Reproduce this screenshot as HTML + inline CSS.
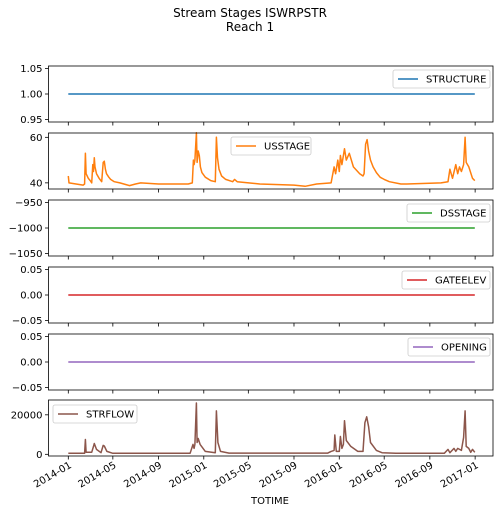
<!DOCTYPE html>
<html><head><meta charset="utf-8"><style>
body{margin:0;background:#fff;}
svg{display:block;font-family:"DejaVu Sans","Liberation Sans",sans-serif;}
</style></head><body>
<svg id="c" width="501" height="514">
<text x="250" y="17" text-anchor="middle" font-size="12">Stream Stages ISWRPSTR</text>
<text x="250" y="31" text-anchor="middle" font-size="12">Reach 1</text>
<text x="270" y="504" text-anchor="middle" font-size="10">TOTIME</text>
</svg>
<script>
const xTickLabels=["2014-01","2014-05","2014-09","2015-01","2015-05","2015-09","2016-01","2016-05","2016-09","2017-01"];
const usDates=["2014-01-01","2014-01-03","2014-02-10","2014-02-14","2014-02-16","2014-02-18","2014-02-24","2014-03-01","2014-03-05","2014-03-08","2014-03-10","2014-03-12","2014-03-14","2014-03-18","2014-03-25","2014-04-01","2014-04-05","2014-04-08","2014-04-11","2014-04-14","2014-04-20","2014-04-25","2014-05-05","2014-05-20","2014-06-15","2014-07-01","2014-07-15","2014-09-01","2014-10-01","2014-11-20","2014-12-01","2014-12-04","2014-12-06","2014-12-08","2014-12-12","2014-12-14","2014-12-17","2014-12-20","2014-12-23","2014-12-27","2015-01-05","2015-01-20","2015-02-01","2015-02-04","2015-02-07","2015-02-11","2015-02-18","2015-03-01","2015-03-20","2015-03-25","2015-04-01","2015-06-01","2015-09-01","2015-10-01","2015-11-01","2015-12-10","2015-12-18","2015-12-22","2015-12-28","2016-01-01","2016-01-04","2016-01-08","2016-01-15","2016-01-20","2016-01-28","2016-02-08","2016-02-25","2016-03-05","2016-03-08","2016-03-12","2016-03-16","2016-03-20","2016-03-25","2016-04-01","2016-04-10","2016-04-20","2016-05-01","2016-05-15","2016-06-15","2016-07-01","2016-10-01","2016-10-20","2016-10-25","2016-11-01","2016-11-10","2016-11-15","2016-11-20","2016-11-25","2016-12-01","2016-12-05","2016-12-08","2016-12-15","2016-12-25","2016-12-31"];
const usValues=[43,40,39,39.5,53,44,42,41,40,48,45,51,47,44,42,40.5,49,49.5,46,44,42.5,41.5,40.5,40,38.8,39.5,40,39.5,39.5,39.5,40,50,48,50,62,49,54,52,47,44.5,42.5,41,40.5,60,51,46,43,41.5,40.5,41.5,40.5,39.5,39,38.5,39.5,40,47,44,50,45,52,48,55,50,53,47,44,43,44,57,59,54,50,47,44.5,42.5,41.5,40.5,39.5,39.5,40,40.5,46,42,48,44,47,45,48,60,49,47,42,41];
const sfDates=["2014-01-01","2014-02-14","2014-02-16","2014-02-18","2014-03-05","2014-03-10","2014-03-12","2014-03-18","2014-03-30","2014-04-05","2014-04-08","2014-04-15","2014-05-01","2014-11-25","2014-12-03","2014-12-06","2014-12-08","2014-12-12","2014-12-14","2014-12-17","2014-12-22","2015-01-05","2015-02-01","2015-02-04","2015-02-08","2015-02-15","2015-03-10","2015-12-01","2015-12-10","2015-12-18","2015-12-20","2015-12-24","2016-01-01","2016-01-04","2016-01-08","2016-01-12","2016-01-15","2016-01-20","2016-02-01","2016-02-20","2016-02-28","2016-03-05","2016-03-10","2016-03-15","2016-03-20","2016-03-25","2016-04-10","2016-04-25","2016-06-01","2016-10-10","2016-10-20","2016-10-25","2016-11-05","2016-11-10","2016-11-15","2016-11-25","2016-12-01","2016-12-05","2016-12-08","2016-12-15","2016-12-20","2016-12-25","2016-12-31"];
const sfValues=[500,500,7500,1000,1000,4000,5500,2500,800,4500,4200,1500,500,500,5000,3000,5000,26000,6000,8000,5000,1500,800,22000,6000,1500,600,600,1500,2000,9800,1500,1500,9000,3000,5000,17000,7000,4000,1500,1500,1500,16000,19000,14000,6000,2000,800,500,500,2500,800,3000,1500,3000,2000,8500,22000,4000,3000,1000,2500,1000];
const structureValue=[1];
const dsValue=[-1000];
const gateValue=[0];
const openingValue=[0];
const ns="http://www.w3.org/2000/svg";
const svg=document.getElementById('c');
const X0=48.5,X1=493,T0=Date.UTC(2014,0,1),K=0.3712;
function xs(d){const p=d.split('-');const t=Date.UTC(+p[0],+p[1]-1,+(p[2]||1));return 68.3+(t-T0)/86400000*K;}
function mk(tag,at,par){const e=document.createElementNS(ns,tag);for(const k in at)e.setAttribute(k,at[k]);(par||svg).appendChild(e);return e;}
const panels=[
 {name:"structure",top:66,lo:0.945,hi:1.055,ticks:[0.95,1.00,1.05],fmt:v=>v.toFixed(2),color:"#1f77b4",label:"STRUCTURE",lg:[393,70,97]},
 {name:"usstage",top:133,lo:37.3,hi:61.9,ticks:[40,60],fmt:v=>String(v),color:"#ff7f0e",label:"USSTAGE",lg:[231,137,80]},
 {name:"dsstage",top:200,lo:-1055,hi:-945,ticks:[-1050,-1000,-950],fmt:v=>String(v).replace('-','−'),color:"#2ca02c",label:"DSSTAGE",lg:[407,204,83]},
 {name:"gateelev",top:267,lo:-0.055,hi:0.055,ticks:[-0.05,0,0.05],fmt:v=>v.toFixed(2).replace('-','−'),color:"#d62728",label:"GATEELEV",lg:[402,271,88]},
 {name:"opening",top:334,lo:-0.055,hi:0.055,ticks:[-0.05,0,0.05],fmt:v=>v.toFixed(2).replace('-','−'),color:"#9467bd",label:"OPENING",lg:[408,338,82]},
 {name:"strflow",top:400,lo:-850,hi:27500,ticks:[0,20000],fmt:v=>String(v),color:"#8c564b",label:"STRFLOW",lg:[53,405,84]}
];
const H=56;
panels.forEach((p,i)=>{
 const g=mk('g',{});
 
 
 const ys=v=>p.top+H-(v-p.lo)/(p.hi-p.lo)*H;
 let dates,vals;
 if(p.name==="usstage"){dates=usDates;vals=usValues;}
 else if(p.name==="strflow"){dates=sfDates;vals=sfValues;}
 else{const v=[structureValue,dsValue,gateValue,openingValue][[0,2,3,4].indexOf(i)][0];dates=["2014-01-01","2016-12-31"];vals=[v,v];}
 const d=dates.map((dt,j)=>(j?'L':'M')+xs(dt).toFixed(1)+','+ys(vals[j]).toFixed(1)).join(' ');
 const line=mk('path',{d:d,fill:'none',stroke:p.color,'stroke-width':1.5,'stroke-linejoin':'round'},g);
 
 
 const fr=mk('rect',{x:X0,y:p.top,width:X1-X0,height:H,fill:'none',stroke:'#000','stroke-width':0.8},g);
 
 
 p.ticks.forEach(t=>{
  const y=ys(t);
  mk('line',{x1:X0-3.5,x2:X0,y1:y,y2:y,stroke:'#000','stroke-width':0.8},g);
  const tx=mk('text',{x:X0-6,y:y+3.5,'text-anchor':'end','font-size':10},g);
  tx.textContent=p.fmt(t);
  
  
 });
 xTickLabels.forEach(l=>{
  const x=xs(l);
  mk('line',{x1:x,x2:x,y1:p.top+H,y2:p.top+H+3.5,stroke:'#000','stroke-width':0.8},g);
  if(i===5){
   const tx=mk('text',{x:x+4,y:p.top+H+11,'text-anchor':'end','font-size':10,transform:`rotate(-30 ${x+4} ${p.top+H+11})`},g);
   tx.textContent=l;
   
   
  }
 });
 const [lx,ly,lw]=p.lg;
 const lg=mk('g',{},g);
 
 
 mk('rect',{x:lx,y:ly,width:lw,height:18,rx:2,fill:'#fff','fill-opacity':0.8,stroke:'#ccc','stroke-width':0.8},lg);
 mk('line',{x1:lx+5,x2:lx+25,y1:ly+9,y2:ly+9,stroke:p.color,'stroke-width':1.5},lg);
 const lt=mk('text',{x:lx+33,y:ly+12.5,'font-size':10},lg);
 lt.textContent=p.label;
});
</script>
</body></html>
